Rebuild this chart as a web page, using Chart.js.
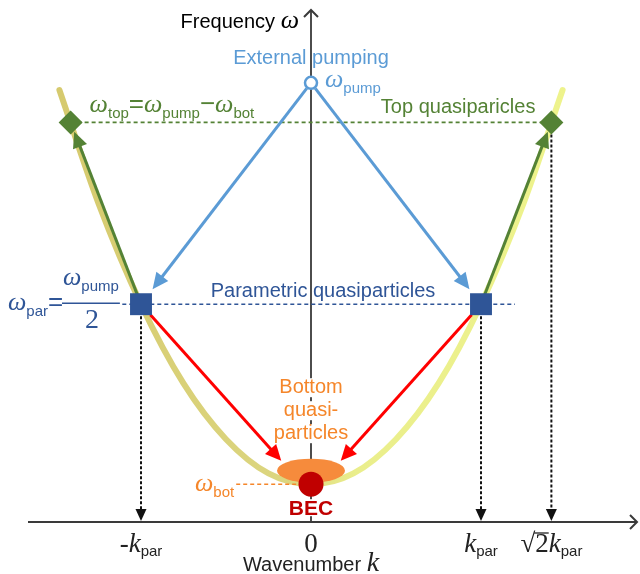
<!DOCTYPE html>
<html>
<head>
<meta charset="utf-8">
<script src="https://cdn.jsdelivr.net/npm/chart.js@4.4.0/dist/chart.umd.min.js"></script>
<style>
  html, body { margin: 0; padding: 0; background: #fff; }
  #diagram { display: block; }
</style>
</head>
<body>
<canvas id="diagram" width="640" height="574"></canvas>
<script>
// dispersion branch: wavenumber in units of k_par, frequency in arbitrary units
const dispersionK = [-1.48, -1.25, -1.0, -0.75, -0.5, -0.25, 0, 0.25, 0.5, 0.75, 1.0, 1.25, 1.48];
const dispersionW = [2.40, 1.77, 1.21, 0.77, 0.46, 0.27, 0.21, 0.27, 0.46, 0.77, 1.21, 1.77, 2.40];

// characteristic frequencies
const wBot = 0.21;
const wPar = 1.21;
const wTop = 2.22;
const wPump = 2.44;

// characteristic wavenumbers
const kPar = [-1, 1];
const kTop = [-1.414, 1.414];
const kLanding = [-0.175, 0.175];
const wLanding = 0.34;

// extent of the dashed guide lines
const parLineK = [-1.11, 1.2];
const botLineK = [-0.44, 0];

// tick labels on the wavenumber axis
const tickK = [-1, 0, 1, 1.414];
const tickMain = ['-k', '0', 'k', '2k'];
const tickSub = ['par', '', 'par', 'par'];

const SANS = '"Liberation Sans", Arial, sans-serif';
const SERIF = '"Liberation Serif", "Times New Roman", serif';
const OMEGA = 'italic 26px ' + SERIF;
const SUB = '15px ' + SANS;
const LABEL = '20px ' + SANS;

const BLUE = '#5b9bd5';
const DARKBLUE = '#2f5597';
const GREEN = '#548235';
const ORANGE = '#f5862a';
const RED = '#ff0000';
const DARKRED = '#c00000';
const AXIS = '#3a3a3a';

function pt(k, w) { return { x: k, y: w }; }

function omega(sub, color) {
  return [
    { text: 'ω', font: OMEGA, color: color },
    { text: sub, font: SUB, color: color, dy: 6 }
  ];
}

function drawParts(ctx, x, y, parts, align) {
  let total = 0;
  parts.forEach(p => {
    ctx.font = p.font;
    p.w = ctx.measureText(p.text).width;
    total += p.w + (p.gap || 0);
  });
  let cx = align === 'center' ? x - total / 2 : align === 'right' ? x - total : x;
  parts.forEach(p => {
    ctx.font = p.font;
    ctx.fillStyle = p.color;
    ctx.fillText(p.text, cx, y + (p.dy || 0));
    cx += p.w + (p.gap || 0);
  });
  return total;
}

function arrowHead(ctx, x0, y0, x1, y1, len, half, color) {
  const a = Math.atan2(y1 - y0, x1 - x0);
  ctx.save();
  ctx.translate(x1, y1);
  ctx.rotate(a);
  ctx.beginPath();
  ctx.moveTo(0, 0);
  ctx.lineTo(-len, -half);
  ctx.lineTo(-len, half);
  ctx.closePath();
  ctx.fillStyle = color;
  ctx.fill();
  ctx.restore();
}

// arrows, cloud and axes are drawn in between the datasets so the stacking stays right
const diagramPlugin = {
  id: 'diagram',
  beforeDatasetsDraw(chart) {
    const { ctx, scales: { x, y }, chartArea } = chart;
    const x0 = x.getPixelForValue(0);
    const y0 = y.getPixelForValue(0);
    ctx.save();
    ctx.strokeStyle = AXIS;
    ctx.lineWidth = 1.8;
    ctx.beginPath();
    ctx.moveTo(chartArea.left + 28, y0);
    ctx.lineTo(chartArea.right - 3, y0);
    ctx.moveTo(x0, y0);
    ctx.lineTo(x0, chartArea.top + 10);
    ctx.stroke();
    // open chevrons at the axis ends
    ctx.lineWidth = 2;
    ctx.beginPath();
    ctx.moveTo(chartArea.right - 10, y0 - 7);
    ctx.lineTo(chartArea.right - 3, y0);
    ctx.lineTo(chartArea.right - 10, y0 + 7);
    ctx.moveTo(x0 - 7, chartArea.top + 17);
    ctx.lineTo(x0, chartArea.top + 10);
    ctx.lineTo(x0 + 7, chartArea.top + 17);
    ctx.stroke();
    ctx.restore();
  },
  afterDatasetDraw(chart, args) {
    const ds = chart.data.datasets[args.index];
    const { ctx, scales: { x, y } } = chart;
    if (ds.cloud) {
      const p = ds.data[0];
      ctx.save();
      ctx.fillStyle = ds.cloud.color;
      ctx.beginPath();
      ctx.ellipse(x.getPixelForValue(p.x), y.getPixelForValue(p.y), ds.cloud.rx, ds.cloud.ry, 0, 0, Math.PI * 2);
      ctx.fill();
      ctx.restore();
    }
    if (ds.arrow) {
      const a = ds.arrow;
      const [p, q] = ds.data;
      const px = x.getPixelForValue(p.x), py = y.getPixelForValue(p.y);
      const qx = x.getPixelForValue(q.x), qy = y.getPixelForValue(q.y);
      const len = Math.hypot(qx - px, qy - py);
      const ux = (qx - px) / len, uy = (qy - py) / len;
      const sx = px + ux * a.startGap, sy = py + uy * a.startGap;
      const tx = qx - ux * a.endGap, ty = qy - uy * a.endGap;
      ctx.save();
      ctx.strokeStyle = a.color;
      ctx.lineWidth = a.width;
      ctx.setLineDash(a.dash || []);
      ctx.beginPath();
      ctx.moveTo(sx, sy);
      ctx.lineTo(tx - ux * a.head * 0.8, ty - uy * a.head * 0.8);
      ctx.stroke();
      ctx.restore();
      arrowHead(ctx, sx, sy, tx, ty, a.head, a.half, a.color);
    }
  },
  afterDraw(chart) {
    const { ctx, scales: { x, y } } = chart;
    const X = (k) => x.getPixelForValue(k);
    const Y = (w) => y.getPixelForValue(w);
    ctx.save();
    ctx.textAlign = 'left';
    ctx.textBaseline = 'alphabetic';

    // vertical axis title
    drawParts(ctx, X(0) - 12, Y(wPump) - 55, [
      { text: 'Frequency ', font: LABEL, color: '#000' },
      { text: 'ω', font: OMEGA, color: '#000' }
    ], 'right');

    // pumping
    drawParts(ctx, X(0), Y(wPump) - 19, [{ text: 'External pumping', font: LABEL, color: BLUE }], 'center');
    drawParts(ctx, X(0) + 14, Y(wPump) + 4, omega('pump', BLUE), 'left');

    // top quasiparticles
    const bigSign = '26px ' + SANS;
    drawParts(ctx, X(kTop[0]) + 19, Y(wTop) - 10, [
      ...omega('top', GREEN),
      { text: '=', font: bigSign, color: GREEN },
      ...omega('pump', GREEN),
      { text: '−', font: bigSign, color: GREEN },
      ...omega('bot', GREEN)
    ], 'left');
    drawParts(ctx, X(kTop[1]) - 16, Y(wTop) - 9, [{ text: 'Top quasiparicles', font: LABEL, color: GREEN }], 'right');

    // parametric quasiparticles
    drawParts(ctx, X(0) + 12, Y(wPar) - 7, [{ text: 'Parametric quasiparticles', font: LABEL, color: DARKBLUE }], 'center');
    const fx = X(kPar[0]) - 133, fy = Y(wPar);
    drawParts(ctx, fx, fy + 6, [
      ...omega('par', DARKBLUE),
      { text: '=', font: bigSign, color: DARKBLUE }
    ], 'left');
    const numW = drawParts(ctx, fx + 55, fy - 19, omega('pump', DARKBLUE), 'left');
    ctx.strokeStyle = DARKBLUE;
    ctx.lineWidth = 1.5;
    ctx.beginPath();
    ctx.moveTo(fx + 54, fy - 1);
    ctx.lineTo(fx + 56 + numW, fy - 1);
    ctx.stroke();
    drawParts(ctx, fx + 56 + numW / 2, fy + 24, [{ text: '2', font: '28px ' + SERIF, color: DARKBLUE }], 'center');

    // bottom quasiparticles, on white so the axis does not show through
    ['Bottom', 'quasi-', 'particles'].forEach((line, i) => {
      const by = Y(wBot) - 91 + i * 23;
      ctx.font = LABEL;
      const w = ctx.measureText(line).width;
      ctx.fillStyle = '#fff';
      ctx.fillRect(X(0) - w / 2 - 1, by - 15, w + 2, 19);
      drawParts(ctx, X(0), by, [{ text: line, font: LABEL, color: ORANGE }], 'center');
    });
    drawParts(ctx, X(0) - 116, Y(wBot) + 7, omega('bot', ORANGE), 'left');
    ctx.font = 'bold 21px ' + SANS;
    const becW = ctx.measureText('BEC').width;
    ctx.fillStyle = '#fff';
    ctx.fillRect(X(0) - becW / 2, Y(wBot) + 15, becW, 17);
    drawParts(ctx, X(0), Y(wBot) + 31, [{ text: 'BEC', font: 'bold 21px ' + SANS, color: DARKRED }], 'center');

    // wavenumber ticks
    const TICK = 'italic 27px ' + SERIF;
    tickK.forEach((k, i) => {
      const parts = [];
      if (tickMain[i] === '0') {
        parts.push({ text: '0', font: '27px ' + SERIF, color: '#222' });
      } else if (tickMain[i] === '2k') {
        parts.push({ text: '√', font: '27px ' + SERIF, color: '#222', root: true });
        parts.push({ text: '2', font: '27px ' + SERIF, color: '#222', over: true });
        parts.push({ text: 'k', font: TICK, color: '#222' });
      } else if (tickMain[i] === '-k') {
        parts.push({ text: '-', font: '27px ' + SERIF, color: '#222' });
        parts.push({ text: 'k', font: TICK, color: '#222' });
      } else {
        parts.push({ text: 'k', font: TICK, color: '#222' });
      }
      if (tickSub[i]) parts.push({ text: tickSub[i], font: SUB, color: '#222', dy: 4 });
      const bx = X(k), by = Y(0) + 30;
      const total = drawParts(ctx, bx, by, parts, 'center');
      const over = parts.find(p => p.over);
      if (over) {
        const root = parts.find(p => p.root);
        const ox = bx - total / 2 + root.w - 1;
        ctx.strokeStyle = '#222';
        ctx.lineWidth = 1.3;
        ctx.beginPath();
        ctx.moveTo(ox, by - 19);
        ctx.lineTo(ox + over.w + 1, by - 19);
        ctx.stroke();
      }
    });
    drawParts(ctx, X(0), Y(0) + 49, [
      { text: 'Wavenumber ', font: LABEL, color: '#222' },
      { text: 'k', font: 'italic 28px ' + SERIF, color: '#222' }
    ], 'center');
    ctx.restore();
  }
};

const arrowSets = [];
kPar.forEach((k, i) => {
  arrowSets.push({
    data: [pt(0, wPump), pt(k, wPar)], order: 40,
    arrow: { color: BLUE, width: 3, head: 16, half: 7.5, startGap: 7, endGap: 19 }
  });
  arrowSets.push({
    data: [pt(k, wPar), pt(kTop[i], wTop)], order: 39,
    arrow: { color: GREEN, width: 3, head: 16, half: 7.5, startGap: 0, endGap: 10 }
  });
  arrowSets.push({
    data: [pt(k, wPar), pt(kLanding[i], wLanding)], order: 38,
    arrow: { color: RED, width: 3, head: 16, half: 7.5, startGap: 14, endGap: 0 }
  });
  arrowSets.push({
    data: [pt(k, wPar), pt(k, 0)], order: 37,
    arrow: { color: '#111', width: 2, head: 12, half: 5.5, startGap: 12, endGap: 1, dash: [3, 2] }
  });
});
arrowSets.push({
  data: [pt(kTop[1], wTop), pt(kTop[1], 0)], order: 37,
  arrow: { color: '#111', width: 2, head: 12, half: 5.5, startGap: 12, endGap: 1, dash: [3, 2] }
});
arrowSets.forEach(s => { s.showLine = false; s.pointRadius = 0; });

const ctx = document.getElementById('diagram').getContext('2d');
new Chart(ctx, {
  type: 'scatter',
  data: {
    datasets: [
      {
        label: 'dispersion',
        data: dispersionK.map((k, i) => pt(k, dispersionW[i])),
        showLine: true,
        borderWidth: 6,
        borderCapStyle: 'round',
        cubicInterpolationMode: 'monotone',
        pointRadius: 0,
        order: 60,
        borderColor: (c) => {
          const area = c.chart.chartArea;
          if (!area) return '#e2dc80';
          const g = c.chart.ctx.createLinearGradient(area.left + 60, 0, area.left + 570, 0);
          g.addColorStop(0, '#d6ca6e');
          g.addColorStop(0.45, '#dcd680');
          g.addColorStop(0.58, '#eaee8c');
          g.addColorStop(1, '#eef38c');
          return g;
        }
      },
      {
        data: [pt(kTop[0], wTop), pt(kTop[1], wTop)],
        showLine: true, borderColor: GREEN, borderWidth: 1.6, borderDash: [4, 3],
        pointRadius: 0, order: 55
      },
      {
        data: [pt(parLineK[0], wPar), pt(parLineK[1], wPar)],
        showLine: true, borderColor: DARKBLUE, borderWidth: 1.6, borderDash: [4, 3],
        pointRadius: 0, order: 55
      },
      {
        data: [pt(botLineK[0], wBot), pt(botLineK[1], wBot)],
        showLine: true, borderColor: ORANGE, borderWidth: 1.6, borderDash: [4, 3],
        pointRadius: 0, order: 55
      },
      {
        // bottom quasiparticle cloud
        data: [pt(0, (wBot + wLanding) / 2 + 0.01)],
        pointRadius: 0, order: 45,
        cloud: { color: '#f68b3c', rx: 34, ry: 12 }
      },
      ...arrowSets,
      {
        data: kPar.map(k => pt(k, wPar)),
        pointStyle: 'rect', pointRadius: 15.5, backgroundColor: DARKBLUE, borderWidth: 0, order: 10
      },
      {
        data: kTop.map(k => pt(k, wTop)),
        pointStyle: 'rectRot', pointRadius: 12, backgroundColor: GREEN, borderWidth: 0, order: 10
      },
      {
        data: [pt(0, wPump)],
        pointStyle: 'circle', pointRadius: 6, backgroundColor: '#fff', borderColor: BLUE, borderWidth: 2.5, order: 10
      },
      {
        data: [pt(0, wBot)],
        pointStyle: 'circle', pointRadius: 12.5, backgroundColor: DARKRED, borderWidth: 0, order: 10
      }
    ]
  },
  options: {
    responsive: false,
    animation: false,
    layout: { padding: 0, autoPadding: false },
    scales: {
      x: { type: 'linear', min: -311 / 170, max: 329 / 170, display: false },
      y: { type: 'linear', min: -52 / 180, max: 522 / 180, display: false }
    },
    plugins: {
      legend: { display: false },
      tooltip: { enabled: false }
    },
    events: []
  },
  plugins: [diagramPlugin]
});
</script>
</body>
</html>
